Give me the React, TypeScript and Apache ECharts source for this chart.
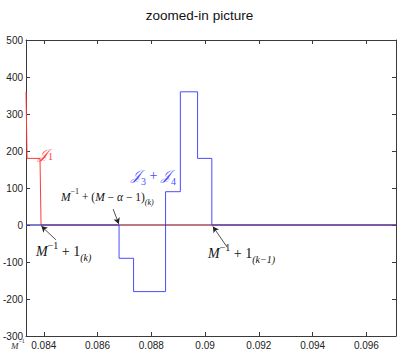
import React, { useEffect, useRef } from "react";
import * as echarts from "echarts";

const xMin = 0.08334;
const xMax = 0.0971;
const xTicks = [0.084, 0.086, 0.088, 0.09, 0.092, 0.094, 0.096];
const yTicksMin = -300;
const yTicksMax = 500;

const j1X = [0.08334, 0.08338, 0.08386, 0.0839, 0.0971];
const j1Y = [360, 180, 180, 0, 0];

const j34X = [0.08334, 0.0868, 0.0868, 0.08734, 0.08734, 0.08853, 0.08853, 0.08908, 0.08908, 0.08972, 0.08972, 0.09025, 0.09025, 0.0971];
const j34Y = [0, 0, -90, -90, -180, -180, 90, 90, 360, 360, 180, 180, 0, 0];

const zeroX = [0.08334, 0.0971];
const zeroY = [0, 0];

const SERIF = "'Liberation Serif', 'DejaVu Serif', serif";
const SANS = "'Liberation Sans', Arial, sans-serif";

function mathRich(size: number, color: string) {
  const s = Math.round(size * 0.7);
  return {
    i: { fontFamily: SERIF, fontStyle: "italic", fontSize: size, fill: color, lineHeight: size + 8 },
    n: { fontFamily: SERIF, fontSize: size, fill: color, lineHeight: size + 8 },
    sup: { fontFamily: SERIF, fontSize: s, fill: color, verticalAlign: "top", lineHeight: s + 2 },
    sub: { fontFamily: SERIF, fontSize: s, fill: color, verticalAlign: "bottom", lineHeight: s + 2 },
    subi: { fontFamily: SERIF, fontStyle: "italic", fontSize: s, fill: color, verticalAlign: "bottom", lineHeight: s + 2 },
  };
}

export default function App() {
  const ref = useRef<HTMLDivElement>(null);
  useEffect(() => {
    if (!ref.current) return;
    const chart = echarts.init(ref.current, null, { renderer: "svg" });
    const axisColor = "#3a3a3a";
    const fmt = (v: number) => String(+Number(v).toFixed(3));
    const option: any = {
      animation: false,
      backgroundColor: "#fff",
      title: {
        text: "zoomed-in picture",
        left: "center",
        top: 3,
        textStyle: { fontSize: 13.5, fontWeight: "normal", color: "#111", fontFamily: SANS },
      },
      grid: { left: 22, right: 3, top: 40, bottom: 15, show: false },
      xAxis: [
        {
          type: "value",
          min: xMin,
          max: xMax,
          position: "bottom",
          axisLine: { show: true, onZero: false, lineStyle: { color: axisColor, width: 1 } },
          axisTick: { show: true, inside: true, length: 4, customValues: xTicks, lineStyle: { color: axisColor } },
          axisLabel: { show: true, customValues: xTicks, formatter: fmt, fontSize: 10, color: "#222", margin: 4, fontFamily: SANS },
          splitLine: { show: false },
        },
        {
          type: "value",
          min: xMin,
          max: xMax,
          position: "top",
          axisLine: { show: true, onZero: false, lineStyle: { color: axisColor, width: 1 } },
          axisTick: { show: true, inside: true, length: 4, customValues: xTicks, lineStyle: { color: axisColor } },
          axisLabel: { show: false },
          splitLine: { show: false },
        },
      ],
      yAxis: [
        {
          type: "value",
          min: yTicksMin,
          max: yTicksMax,
          interval: 100,
          position: "left",
          axisLine: { show: true, onZero: false, lineStyle: { color: axisColor, width: 1 } },
          axisTick: { show: true, inside: true, length: 4, lineStyle: { color: axisColor } },
          axisLabel: { fontSize: 10, color: "#222", margin: 3, fontFamily: SANS },
          splitLine: { show: false },
        },
        {
          type: "value",
          min: yTicksMin,
          max: yTicksMax,
          interval: 100,
          position: "right",
          axisLine: { show: true, onZero: false, lineStyle: { color: axisColor, width: 1 } },
          axisTick: { show: true, inside: true, length: 4, lineStyle: { color: axisColor } },
          axisLabel: { show: false },
          splitLine: { show: false },
        },
      ],
      series: [
        {
          type: "line",
          name: "J1",
          data: j1X.map((x, i) => [x, j1Y[i]]),
          showSymbol: false,
          lineStyle: { color: "#ff3b3b", width: 1 },
          itemStyle: { color: "#ff3b3b" },
        },
        {
          type: "line",
          name: "J3+J4",
          data: j34X.map((x, i) => [x, j34Y[i]]),
          showSymbol: false,
          lineStyle: { color: "#4b4bff", width: 1 },
          itemStyle: { color: "#4b4bff" },
          markLine: {
            silent: true,
            symbol: ["none", "arrow"],
            symbolSize: [5, 6],
            lineStyle: { color: "#222", width: 0.8, type: "solid" },
            label: { show: false },
            data: [
              [{ coord: [0.08445, -40] }, { coord: [0.08391, -3] }],
              [{ coord: [0.08658, 43] }, { coord: [0.08679, 3] }],
              [{ coord: [0.09082, -60] }, { coord: [0.09029, -4] }],
            ],
          },
        },
        {
          type: "line",
          name: "zero",
          data: zeroX.map((x, i) => [x, zeroY[i]]),
          showSymbol: false,
          lineStyle: { color: "#2a2a55", width: 0.8, opacity: 0.8 },
          z: 3,
        },
      ],
      graphic: [
        {
          type: "text",
          x: 11,
          y: 346,
          style: {
            text: "{i|M}{sup|−1}",
            rich: mathRich(9, "#333"),
            verticalAlign: "middle",
          },
        },
        {
          type: "text",
          x: 36,
          y: 251,
          style: {
            text: "{i|M}{sup|−1}{n| + 1}{subi|(k)}",
            rich: mathRich(14, "#111"),
            verticalAlign: "middle",
          },
        },
        {
          type: "text",
          x: 61,
          y: 197,
          style: {
            text: "{i|M}{sup|−1}{n| + (}{i|M}{n| − }{i|α}{n| − 1)}{subi|(k)}",
            rich: mathRich(11.5, "#111"),
            verticalAlign: "middle",
          },
        },
        {
          type: "text",
          x: 208,
          y: 253,
          style: {
            text: "{i|M}{sup|−1}{n| + 1}{subi|(k−1)}",
            rich: mathRich(14, "#111"),
            verticalAlign: "middle",
          },
        },
        {
          type: "text",
          x: 38,
          y: 154,
          style: {
            text: "𝒥{sub|1}",
            rich: mathRich(14, "#ff3b3b"),
            font: "italic 14px " + SERIF,
            fill: "#ff3b3b",
            verticalAlign: "middle",
          },
        },
        {
          type: "text",
          x: 131,
          y: 175,
          style: {
            text: "𝒥{sub|3}{n| + }𝒥{sub|4}",
            rich: mathRich(14, "#4b4bff"),
            font: "italic 14px " + SERIF,
            fill: "#4b4bff",
            verticalAlign: "middle",
          },
        },
      ],
    };
    chart.setOption(option);
    return () => chart.dispose();
  }, []);
  return (
    <div
      ref={ref}
      style={{ position: "absolute", left: 0, top: 0, width: 399, height: 351, background: "#fff" }}
    />
  );
}
